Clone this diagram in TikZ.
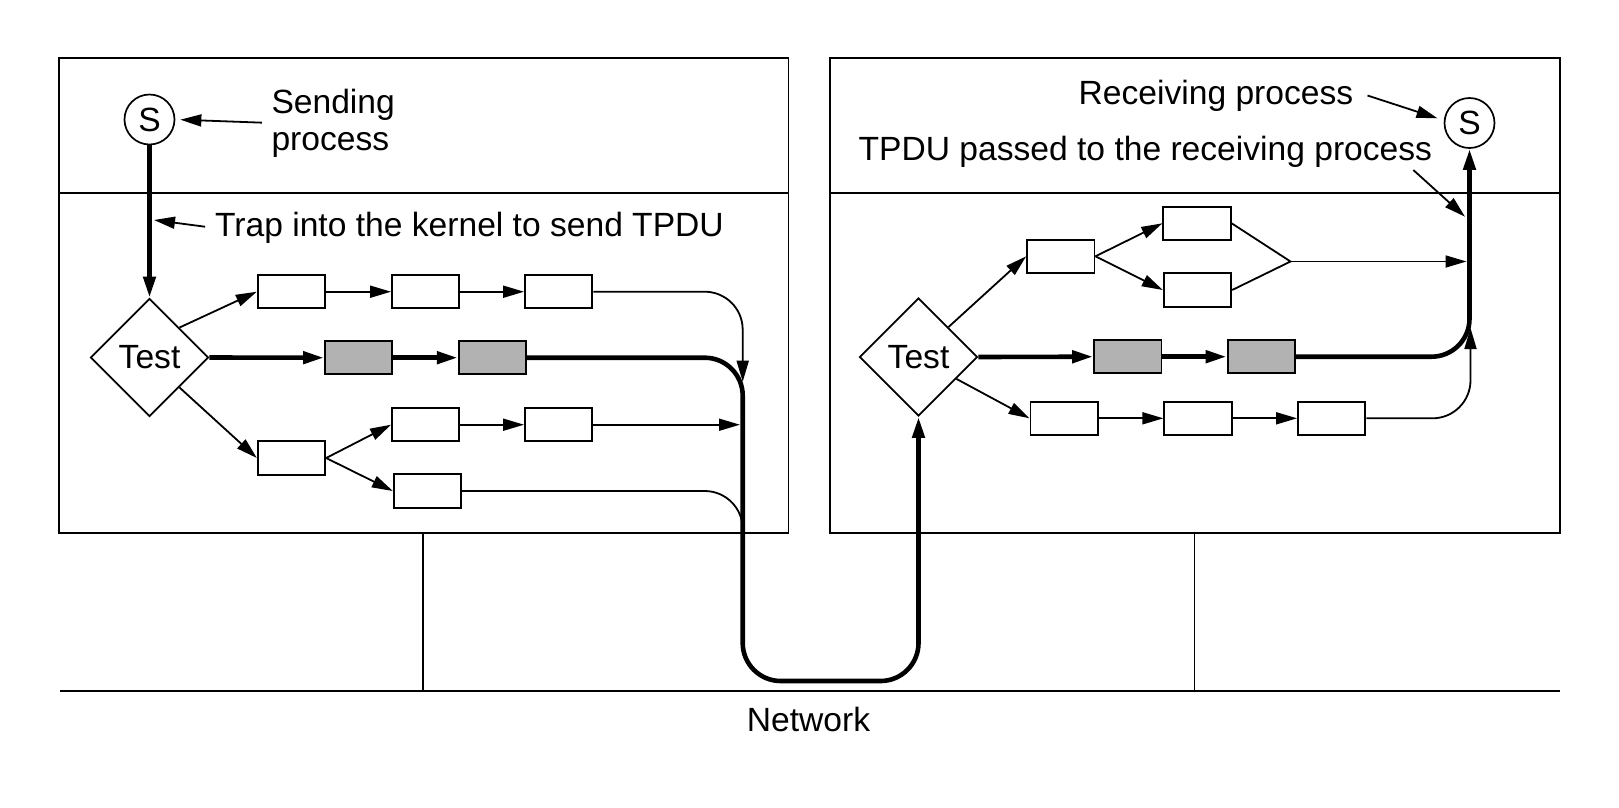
\documentclass[tikz,border=0pt]{standalone}
\usepackage{fontspec}
\setmainfont{Liberation Sans}
\usetikzlibrary{arrows.meta,shapes.geometric}
\begin{document}
\begin{tikzpicture}[x=1pt,y=-1pt,
  every node/.style={font=\fontsize{33.6}{37}\selectfont},
  frame/.style={line width=1.7pt},
  conn/.style={line width=1.8pt, -{Triangle[length=21pt,width=12pt]}},
  plainline/.style={line width=1.8pt},
  heavy/.style={line width=4.6pt, -{Triangle[length=21pt,width=12pt]}},
  pbox/.style={draw, line width=1.9pt, minimum width=67.4pt, minimum height=33.3pt, inner sep=0pt},
  gbox/.style={pbox, fill=black!30},
  proc/.style={draw, circle, line width=1.7pt, minimum size=50pt, inner sep=0pt},
  test/.style={draw, diamond, aspect=1, line width=1.7pt, minimum width=118pt, minimum height=118pt, inner sep=0pt},
  lbl/.style={inner sep=0pt}
]
\useasboundingbox (0,0) rectangle (1619,807);

% ---------- frames ----------
\draw[frame] (58.7,58.3) rectangle (788.5,532.7);
\draw[frame] (58.7,193.3) -- (788.5,193.3);
\draw[frame] (829.8,58.3) rectangle (1560.3,532.7);
\draw[frame] (829.8,193.3) -- (1560.3,193.3);
\draw[frame] (60,690.7) -- (1560,690.7);
\draw[frame] (422.8,532.7) -- (422.8,690.7);
\draw[frame] (1194.4,532.7) -- (1194.4,690.7);
\node[lbl, anchor=base] (nettxt) at (808.5,731.7) {Network};

% ---------- sending host ----------
\node[proc] (lS) at (149.5,119.5) {S};
\node[test] (ld) at (149.5,357.5) {Test};
\node[pbox] (lt1) at (291.5,291.7) {};
\node[pbox] (lt2) at (425.7,291.7) {};
\node[pbox] (lt3) at (558.7,291.7) {};
\node[gbox] (lg1) at (358.7,357.7) {};
\node[gbox] (lg2) at (492.5,357.7) {};
\node[pbox] (lr3a) at (425.7,424.7) {};
\node[pbox] (lr3b) at (558.7,424.7) {};
\node[pbox] (lb4) at (291.5,458) {};
\node[pbox] (lb5) at (427.5,491) {};

\node[lbl, anchor=west, align=left] (sendtxt) at (271.3,123) {Sending\\process};
\node[lbl, anchor=base west] (traptxt) at (215,236.7) {Trap into the kernel to send TPDU};

\coordinate (trapto) at (154,220);
\coordinate (lmerge3) at (740,424.7);

\draw[conn, shorten <=9.5pt, shorten >=5pt] (sendtxt.west) -- (lS.east);
\draw[heavy] (lS.south) -- (ld.north);
\draw[conn, shorten <=10pt] (traptxt.west) -- (trapto);

\draw[conn] (ld.north east) -- (lt1.west);
\draw[conn] (lt1.east) -- (lt2.west);
\draw[conn] (lt2.east) -- (lt3.west);
\draw[heavy] (ld.east) -- (lg1.west);
\draw[heavy] (lg1.east) -- (lg2.west);
\draw[conn] (ld.south east) -- (lb4.west);
\draw[conn] (lb4.east) -- (lr3a.west);
\draw[conn] (lb4.east) -- (lb5.west);
\draw[conn] (lr3a.east) -- (lr3b.west);
\draw[conn] (lr3b.east) -- (lmerge3);
\draw[conn, rounded corners=38pt] (lt3.east) -- (742.7,291.7) -- (742.7,381.7);
\draw[plainline, rounded corners=38pt] (lb5.east) -- (742.7,491) -- (742.7,536);

% ---------- receiving host ----------
\node[proc] (rS) at (1469.5,123) {S};
\node[test] (rd) at (918.5,357) {Test};
\node[pbox] (ru1) at (1060.8,256.3) {};
\node[pbox] (ru2a) at (1197,223.3) {};
\node[pbox] (ru2b) at (1197.5,290) {};
\node[gbox] (rg1) at (1127.8,356.7) {};
\node[gbox] (rg2) at (1261.3,356.7) {};
\node[pbox] (rb1) at (1064.2,418.3) {};
\node[pbox] (rb2) at (1198,418.3) {};
\node[pbox] (rb3) at (1331.7,418.3) {};

\node[lbl, anchor=base west] (recvtxt) at (1078.5,104.3) {Receiving process};
\node[lbl, anchor=base west] (passtxt) at (858.5,160) {TPDU passed to the receiving process};

\coordinate (recvfrom) at (1367.5,95.5);
\coordinate (recvto) at (1437.5,118.3);
\coordinate (passfrom) at (1413.3,170);
\coordinate (passto) at (1465,216.7);
\coordinate (rm) at (1290.5,261.5);
\coordinate (rmerge) at (1466.5,261.5);

\draw[conn] (recvfrom) -- (recvto);
\draw[conn] (passfrom) -- (passto);

\draw[conn] (rd.north east) -- (ru1.west);
\draw[conn] (ru1.east) -- (ru2a.west);
\draw[conn] (ru1.east) -- (ru2b.west);
\draw[plainline] (ru2a.east) -- (rm) -- (ru2b.east);
\draw[conn] (rm) -- (rmerge);
\draw[heavy] (rd.east) -- (rg1.west);
\draw[heavy] (rg1.east) -- (rg2.west);
\draw[conn] (rd.-30) -- (rb1.west);
\draw[conn] (rb1.east) -- (rb2.west);
\draw[conn] (rb2.east) -- (rb3.west);
\draw[conn, rounded corners=38pt] (rb3.east) -- (1470.5,418.3) -- (1470.5,328);
\draw[heavy, rounded corners=38pt] (rg2.east) -- (1469.5,356.7) -- (rS.south);

% ---------- path through the network ----------
\draw[heavy, rounded corners=38pt] (lg2.east) -- (742.7,357.7) -- (742.7,681) -- (918.5,681) -- (rd.south);
\end{tikzpicture}
\end{document}
